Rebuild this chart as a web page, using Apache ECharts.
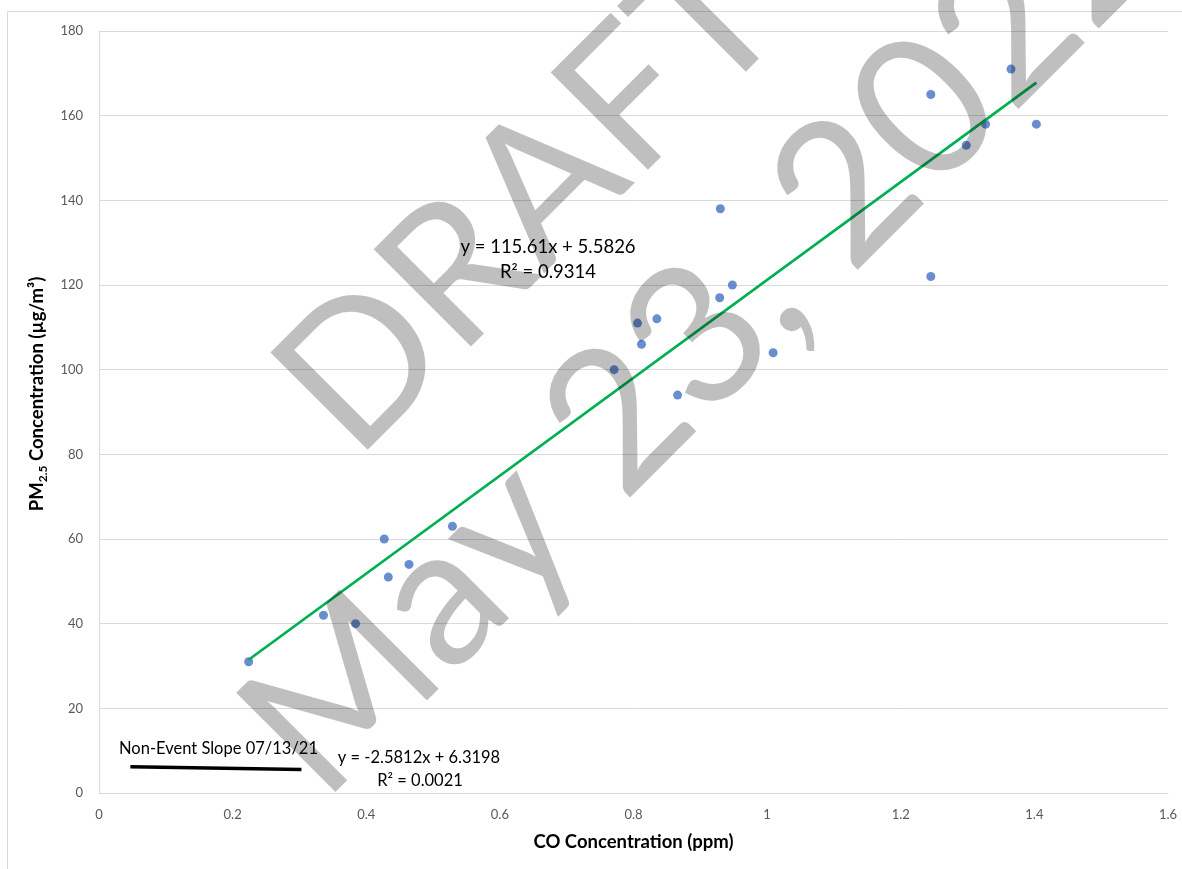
<!DOCTYPE html>
<html lang="en">
<head>
    <meta charset="UTF-8">
    <title>PM2.5 vs CO</title>
    <style>
        html, body { margin: 0; padding: 0; background: #fff; }
        #main { width: 1182px; height: 869px; }
    </style>
</head>
<body>
<div id="main"></div>
<script src="https://cdn.jsdelivr.net/npm/echarts@6/dist/echarts.min.js"></script>
<script>
    // event day samples
    var coValues = [0.224, 0.336, 0.384, 0.427, 0.433, 0.464, 0.529, 0.771, 0.806, 0.812, 0.835,
                    0.866, 0.929, 0.930, 0.948, 1.009, 1.245, 1.245, 1.298, 1.327, 1.365, 1.403];
    var pmValues = [31, 42, 40, 60, 51, 54, 63, 100, 111, 106, 112,
                    94, 117, 138, 120, 104, 165, 122, 153, 158, 171, 158];

    // fitted lines as printed on the chart
    var eventSlope = 115.61;
    var eventIntercept = 5.5826;
    var eventLabel = ['y = 115.61x + 5.5826', 'R\u00b2 = 0.9314'];

    var nonEventSlope = -2.5812;
    var nonEventIntercept = 6.3198;
    var nonEventRange = [0.047, 0.303];
    var nonEventLabel = ['y = -2.5812x + 6.3198', 'R\u00b2 = 0.0021'];
    var nonEventTitle = 'Non-Event Slope 07/13/21';

    var watermark = ['DRAFT', 'May 23, 2022'];

    var font = 'Lato, "Open Sans", sans-serif';

    var points = [];
    for (var i = 0; i < coValues.length; i++) {
        points.push([coValues[i], pmValues[i]]);
    }
    var xMin = Math.min.apply(null, coValues);
    var xMax = Math.max.apply(null, coValues);
    var eventLine = [[xMin, eventSlope * xMin + eventIntercept], [xMax, eventSlope * xMax + eventIntercept]];
    var nonEventLine = [];
    for (var j = 0; j < nonEventRange.length; j++) {
        nonEventLine.push([nonEventRange[j], nonEventSlope * nonEventRange[j] + nonEventIntercept]);
    }

    var myChart = echarts.init(document.getElementById('main'));
    var rot = 45 * Math.PI / 180;

    var option = {
        animation: false,
        backgroundColor: '#fff',
        textStyle: { fontFamily: font },
        grid: { left: 99, top: 31, right: 14, bottom: 76 },
        xAxis: {
            type: 'value',
            min: 0,
            max: 1.6,
            interval: 0.2,
            name: 'CO Concentration (ppm)',
            nameLocation: 'middle',
            nameGap: 40,
            nameTextStyle: { fontFamily: font, fontWeight: 'bold', fontSize: 18.5, color: '#000' },
            axisLine: { show: true, lineStyle: { color: '#d9d9d9', width: 1 } },
            axisTick: { show: false },
            splitLine: { show: false },
            axisLabel: {
                color: '#595959',
                fontSize: 13,
                margin: 15,
                formatter: function (v) { return String(Math.round(v * 10) / 10); }
            }
        },
        yAxis: {
            type: 'value',
            min: 0,
            max: 180,
            interval: 20,
            name: 'PM{sub|2.5} Concentration (\u00b5g/m\u00b3)',
            nameLocation: 'middle',
            nameGap: 45,
            nameTextStyle: {
                fontFamily: font, fontWeight: 'bold', fontSize: 18.5, color: '#000',
                lineHeight: 24,
                padding: [0, 0, 0, 36],
                rich: {
                    sub: { fontFamily: font, fontWeight: 'bold', fontSize: 12, color: '#000', lineHeight: 12, verticalAlign: 'bottom' }
                }
            },
            axisLine: { show: true, lineStyle: { color: '#d9d9d9', width: 1 } },
            axisTick: { show: false },
            splitLine: { show: true, lineStyle: { color: '#d9d9d9', width: 1 } },
            axisLabel: { color: '#595959', fontSize: 13, margin: 16 }
        },
        series: [{
            type: 'scatter',
            data: points,
            symbol: 'circle',
            symbolSize: 9,
            itemStyle: { color: '#4472C4' },
            z: 2
        }, {
            type: 'line',
            data: eventLine,
            showSymbol: false,
            lineStyle: { color: '#00B050', width: 2.75 },
            z: 3
        }, {
            type: 'line',
            data: nonEventLine,
            showSymbol: false,
            lineStyle: { color: '#000', width: 3.5 },
            z: 3
        }],
        graphic: [{
            type: 'rect',
            silent: true,
            z: -10,
            shape: { x: 7.5, y: 11.5, width: 1400, height: 1000 },
            style: { fill: 'none', stroke: '#d9d9d9', lineWidth: 1 }
        }, {
            type: 'text', x: 548, y: 247, z: 50,
            style: { text: eventLabel[0], font: '18.5px ' + font, fill: '#000', align: 'center', verticalAlign: 'middle' }
        }, {
            type: 'text', x: 548, y: 272, z: 50,
            style: { text: eventLabel[1], font: '18.5px ' + font, fill: '#000', align: 'center', verticalAlign: 'middle' }
        }, {
            type: 'text', x: 419, y: 758, z: 50,
            style: { text: nonEventLabel[0], font: '16.5px ' + font, fill: '#000', align: 'center', verticalAlign: 'middle' }
        }, {
            type: 'text', x: 420, y: 781, z: 50,
            style: { text: nonEventLabel[1], font: '16.5px ' + font, fill: '#000', align: 'center', verticalAlign: 'middle' }
        }, {
            type: 'text', x: 119, y: 749, z: 50,
            style: { text: nonEventTitle, font: '16.5px ' + font, fill: '#000', align: 'left', verticalAlign: 'middle' }
        }, {
            type: 'text', x: 530, y: 200, rotation: rot, z: 100, silent: true,
            style: { text: watermark[0], font: '192px ' + font, fill: 'rgba(0,0,0,0.25)', align: 'center', verticalAlign: 'middle' }
        }, {
            type: 'text', x: 703, y: 335, rotation: rot, z: 100, silent: true,
            style: { text: watermark[1], font: '196px ' + font, fill: 'rgba(0,0,0,0.25)', align: 'center', verticalAlign: 'middle' }
        }]
    };
    myChart.setOption(option);
</script>
</body>
</html>
